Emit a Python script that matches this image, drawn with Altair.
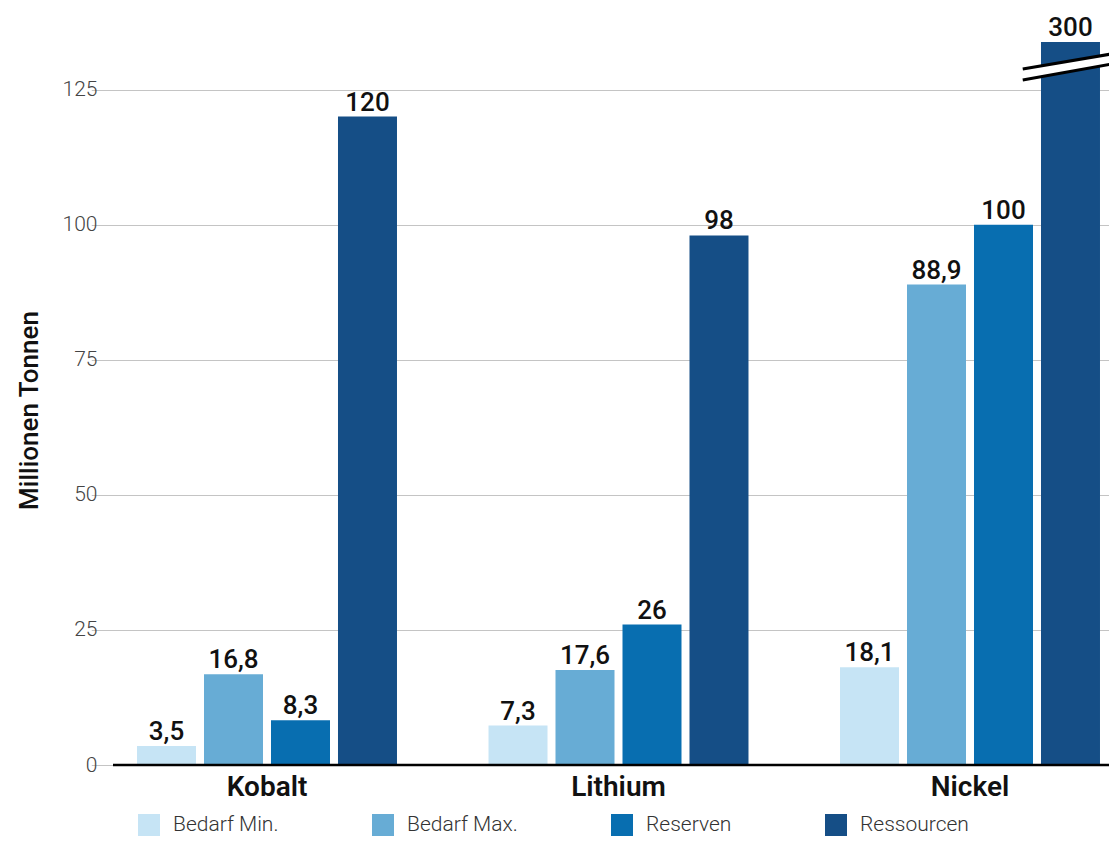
import altair as alt
import pandas as pd

categories = ["Kobalt", "Lithium", "Nickel"]
series = ["Bedarf Min.", "Bedarf Max.", "Reserven", "Ressourcen"]
colors = ["#c6e4f5", "#67acd5", "#086eb0", "#154e86"]
values = {
    "Bedarf Min.": [3.5, 7.3, 18.1],
    "Bedarf Max.": [16.8, 17.6, 88.9],
    "Reserven": [8.3, 26, 100],
    "Ressourcen": [120, 98, 300],
}
y_ticks = [0, 25, 50, 75, 100, 125]
y_max = 133.8  # axis break: values above are cut at the top

# axis-break marker (group units on x, data units on y)
break_x = [2.650, 2.917]
break_top = [128.8, 131.75]
break_bottom = [126.76, 129.9]

rows = []
for s in series:
    for c, v in zip(categories, values[s]):
        rows.append({"cat": c, "series": s, "value": v,
                     "label": f"{v:g}".replace(".", ",")})
df = pd.DataFrame(rows)

FONT = "Roboto"
W, H = 996, 723
XR = [-21.75, 1032.75]


def yscale():
    return alt.Scale(domain=[0, y_max], clamp=True, nice=False, zero=True)


def xscale():
    return alt.Scale(domain=categories, range=XR, paddingInner=0, paddingOuter=0)


def xoff():
    return alt.XOffset("series:N", sort=series,
                       scale=alt.Scale(domain=series, paddingInner=0.1194, paddingOuter=0.683))


yaxis = alt.Axis(title="Millionen Tonnen", values=y_ticks, domain=False, ticks=False,
                 grid=True, gridColor="#c4c4c4", gridWidth=1,
                 labelFont=FONT, labelFontSize=21, labelFontWeight=300,
                 labelColor="#444", labelPadding=16,
                 titleFont=FONT, titleFontSize=26, titleFontWeight=500,
                 titleColor="#111", titleX=-84, titleY=368, titleAngle=-90,
                 titleAlign="center", titleBaseline="middle")

base = alt.Chart(df)
bars = base.mark_bar().encode(
    x=alt.X("cat:N", scale=xscale(), sort=categories,
            axis=alt.Axis(title=None, domain=False, ticks=False, grid=False, labelAngle=0,
                          labelFont=FONT, labelFontSize=28, labelFontWeight=600,
                          labelColor="#111", labelPadding=8, labelBaseline="top")),
    xOffset=xoff(),
    y=alt.Y("value:Q", scale=yscale(), axis=yaxis),
    color=alt.Color("series:N", sort=series,
                    scale=alt.Scale(domain=series, range=colors),
                    legend=alt.Legend(orient="none", legendX=25, legendY=772,
                                      direction="horizontal", title=None,
                                      symbolType="square", symbolSize=484,
                                      symbolStrokeWidth=0, labelFont=FONT,
                                      labelFontSize=21, labelFontWeight=300,
                                      labelColor="#333", columnPadding=93,
                                      labelOffset=13, padding=0)),
)
text = base.mark_text(dy=-6, baseline="alphabetic", font=FONT, fontSize=26,
                      fontWeight=500, color="#111").encode(
    x=alt.X("cat:N", scale=xscale(), sort=categories, axis=None),
    xOffset=xoff(),
    y=alt.Y("value:Q", scale=yscale()),
    text="label:N",
)
baseline = alt.Chart(pd.DataFrame({"v": [0]})).mark_rule(color="#000", strokeWidth=2.5).encode(
    y=alt.Y("v:Q", scale=yscale())
)

bdf = pd.DataFrame({"x": break_x, "top": break_top, "bottom": break_bottom})
brk_area = alt.Chart(bdf).mark_area(color="white", opacity=1).encode(
    x=alt.X("x:Q", scale=alt.Scale(domain=[0, 3], range=XR, nice=False, zero=False), axis=None),
    y=alt.Y("top:Q", scale=yscale()), y2="bottom:Q")
ldf = pd.DataFrame({
    "x": break_x + break_x,
    "y": break_top + break_bottom,
    "line": ["a", "a", "b", "b"],
})
brk_lines = alt.Chart(ldf).mark_line(color="black", strokeWidth=3).encode(
    x=alt.X("x:Q", scale=alt.Scale(domain=[0, 3], range=XR, nice=False, zero=False), axis=None),
    y=alt.Y("y:Q", scale=yscale()),
    detail="line:N",
)

chart = alt.layer(bars, text, baseline, brk_area, brk_lines).resolve_scale(
    x="independent"
).properties(
    width=W, height=H,
    background="white",
    autosize=alt.AutoSizeParams(type="none"),
    padding={"left": 105, "top": 34, "right": 0, "bottom": 72},
).configure_view(stroke="transparent", strokeWidth=0).configure_axis(domain=False).configure_axisX(
    grid=False
)

chart.save("out.html", embed_options={"renderer": "svg", "actions": False})
